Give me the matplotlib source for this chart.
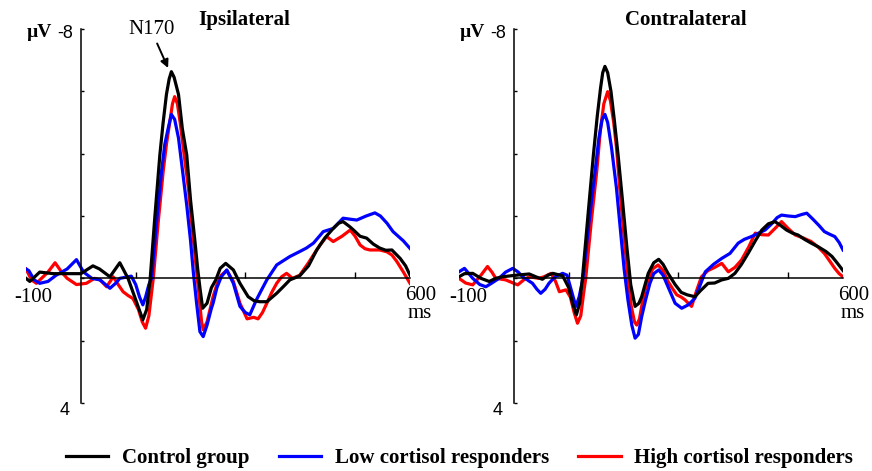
import matplotlib
matplotlib.use("Agg")
import matplotlib.pyplot as plt

SERIF = "Liberation Serif"
SANS = "Liberation Sans"

# ---- data (time in ms, amplitude in µV) ----
ipsi_ctrl_t = [-100, -93, -75, -50, -25, 0, 22, 34, 53, 71, 86, 98, 113, 120, 126, 135, 144,
               150, 156, 161, 165, 170, 178, 185, 193, 200, 208, 213, 217, 222, 230, 238,
               246, 254, 264, 278, 290, 305, 316, 326, 339, 357, 370, 381, 399, 415, 430,
               445, 460, 470, 478, 490, 497, 509, 521, 533, 545, 556, 567, 582, 592, 600]
ipsi_ctrl_v = [0.0, 0.1, -0.2, -0.15, -0.15, -0.15, -0.4, -0.3, -0.05, -0.5, 0.0, 0.59, 1.33,
               1.0, 0.1, -2.0, -3.96, -5.0, -5.9, -6.4, -6.63, -6.45, -5.9, -4.8, -3.96,
               -2.5, -1.18, -0.3, 0.3, 0.96, 0.8, 0.3, 0.05, -0.32, -0.48, -0.27, 0.16,
               0.59, 0.72, 0.75, 0.75, 0.48, 0.25, 0.05, -0.08, -0.4, -0.91, -1.3, -1.6,
               -1.77, -1.82, -1.66, -1.55, -1.35, -1.29, -1.1, -0.97, -0.9, -0.91, -0.64,
               -0.4, -0.1]

ipsi_low_t = [-100, -95, -85, -75, -60, -45, -25, -8, 5, 20, 35, 53, 64, 71, 92, 100, 107,
              113, 118, 124, 129, 138, 147, 153, 159, 165, 171, 178, 185, 193, 200, 205,
              211, 217, 223, 230, 238, 241, 248, 256, 266, 278, 290, 300, 308, 320, 330,
              339, 357, 381, 399, 411, 424, 442, 460, 478, 490, 503, 520, 536, 546, 558,
              569, 576, 588, 600]
ipsi_low_v = [-0.3, -0.25, 0.05, 0.16, 0.1, -0.1, -0.3, -0.6, -0.2, 0.0, 0.05, 0.32, 0.15,
              0.0, -0.07, 0.2, 0.6, 0.85, 0.6, 0.2, 0.0, -1.8, -3.42, -4.3, -4.8, -5.26,
              -5.1, -4.5, -3.5, -2.35, -1.2, -0.2, 0.8, 1.71, 1.87, 1.5, 0.96, 0.8, 0.3,
              -0.05, -0.27, 0.16, 0.9, 1.1, 1.17, 0.69, 0.35, 0.05, -0.43, -0.7, -0.86,
              -0.97, -1.13, -1.5, -1.6, -1.93, -1.9, -1.87, -2.0, -2.1, -2.0, -1.77, -1.5,
              -1.39, -1.2, -0.96]

ipsi_high_t = [-100, -90, -81, -60, -47, -35, -25, -8, 10, 25, 35, 47, 59, 68, 77, 86, 95,
               105, 112, 118, 124, 128, 132, 141, 150, 156, 162, 167, 171, 176, 181, 188,
               196, 202, 208, 214, 220, 223, 230, 241, 248, 256, 266, 278, 290, 303, 315,
               323, 331, 339, 348, 357, 366, 375, 386, 399, 415, 424, 436, 448, 460, 476,
               491, 500, 509, 518, 527, 545, 558, 567, 576, 588, 600]
ipsi_high_v = [-0.3, 0.05, 0.16, -0.2, -0.5, -0.2, 0.0, 0.2, 0.16, 0.0, 0.05, 0.27, -0.05,
               0.2, 0.43, 0.55, 0.65, 1.0, 1.4, 1.6, 1.2, 0.6, 0.0, -1.8, -3.42, -4.3,
               -5.0, -5.6, -5.83, -5.6, -5.0, -4.0, -2.9, -1.8, -0.75, 0.3, 1.39, 1.65,
               1.4, 0.59, 0.2, -0.1, -0.25, 0.1, 0.8, 1.3, 1.25, 1.3, 1.1, 0.8, 0.45, 0.16,
               -0.05, -0.16, 0.0, -0.1, -0.5, -0.75, -1.07, -1.34, -1.18, -1.35, -1.55,
               -1.35, -1.07, -0.95, -0.91, -0.91, -0.85, -0.75, -0.54, -0.2, 0.16]

contra_ctrl_t = [-100, -90, -75, -60, -45, -33, -21, 4, 28, 40, 52, 62, 71, 89, 100, 107,
                 114, 120, 125, 135, 145, 152, 158, 162, 166, 171, 177, 183, 190, 198, 206,
                 213, 221, 228, 233, 240, 245, 255, 264, 272, 281, 294, 305, 316, 330, 340,
                 354, 366, 379, 391, 403, 415, 427, 440, 452, 464, 476, 486, 497, 508, 518,
                 530, 542, 556, 569, 580, 590, 600]
contra_ctrl_v = [-0.05, -0.15, -0.16, 0.0, 0.1, 0.0, -0.05, -0.1, -0.14, -0.05, 0.03, -0.1,
                 -0.16, -0.08, 0.3, 0.8, 1.17, 0.8, 0.0, -2.0, -3.96, -5.2, -6.1, -6.6, -6.8,
                 -6.6, -6.0, -5.1, -3.96, -2.5, -1.0, 0.2, 0.9, 0.8, 0.59, 0.15, -0.16, -0.5,
                 -0.61, -0.45, -0.16, 0.2, 0.45, 0.53, 0.59, 0.4, 0.16, 0.15, 0.05, 0.0,
                 -0.16, -0.45, -0.8, -1.2, -1.55, -1.75, -1.82, -1.7, -1.55, -1.45, -1.39,
                 -1.25, -1.13, -1.0, -0.86, -0.7, -0.48, -0.25]

contra_low_t = [-100, -90, -82, -75, -62, -51, -40, -27, -15, -2, 8, 16, 34, 42, 49, 57, 64,
                75, 89, 97, 105, 113, 119, 126, 137, 148, 155, 161, 166, 171, 178, 187, 194,
                201, 208, 215, 221, 227, 233, 240, 248, 255, 264, 272, 281, 294, 306, 318,
                330, 340, 349, 364, 379, 394, 409, 420, 433, 446, 458, 470, 480, 488, 500,
                513, 525, 534, 545, 556, 566, 575, 585, 593, 600]
contra_low_v = [-0.21, -0.32, -0.15, 0.0, 0.2, 0.27, 0.15, 0.0, -0.2, -0.32, -0.2, -0.05,
                0.16, 0.35, 0.48, 0.35, 0.16, -0.05, -0.16, -0.1, 0.4, 0.9, 0.6, 0.0, -1.8,
                -3.42, -4.5, -5.1, -5.26, -5.0, -4.2, -2.9, -1.6, -0.3, 0.7, 1.5, 1.92, 1.8,
                1.23, 0.7, 0.16, -0.15, -0.27, -0.1, 0.27, 0.8, 0.96, 0.85, 0.64, 0.2,
                -0.21, -0.45, -0.64, -0.8, -1.13, -1.25, -1.34, -1.45, -1.55, -1.75, -1.95,
                -2.03, -2.0, -1.98, -2.05, -2.09, -1.9, -1.7, -1.5, -1.42, -1.34, -1.15,
                -0.91]

contra_high_t = [-100, -88, -75, -60, -48, -40, -33, -15, 7, 18, 28, 45, 55, 68, 76, 83, 95,
                 103, 110, 116, 122, 127, 131, 141, 151, 158, 164, 171, 176, 182, 187, 193,
                 200, 207, 214, 220, 224, 229, 233, 239, 245, 253, 263, 272, 281, 290, 297,
                 305, 312, 318, 324, 333, 342, 354, 366, 379, 391, 403, 415, 428, 440, 452,
                 464, 476, 488, 500, 513, 527, 542, 555, 566, 576, 585, 593, 600]
contra_high_v = [0.0, 0.15, 0.21, -0.1, -0.38, -0.2, 0.0, 0.05, 0.21, 0.05, -0.05, 0.0,
                 -0.05, -0.16, 0.1, 0.43, 0.37, 0.6, 1.1, 1.44, 1.2, 0.5, 0.0, -1.8, -3.42,
                 -4.8, -5.6, -5.99, -5.7, -5.0, -4.2, -2.9, -1.5, -0.2, 0.9, 1.4, 1.5, 1.3,
                 0.9, 0.4, 0.05, -0.3, -0.43, -0.25, 0.1, 0.35, 0.53, 0.6, 0.69, 0.8, 0.9,
                 0.4, -0.05, -0.25, -0.35, -0.48, -0.21, -0.35, -0.59, -1.0, -1.45, -1.4,
                 -1.39, -1.6, -1.82, -1.6, -1.39, -1.3, -1.18, -1.0, -0.8, -0.55, -0.32,
                 -0.15, -0.05]

group_labels = ["Control group", "Low cortisol responders", "High cortisol responders"]
group_colors = ["#000000", "#0000ff", "#ff0000"]
panel_titles = ["Ipsilateral", "Contralateral"]
x_ticks = [100, 300, 500]
y_ticks = [-8, -6, -4, -2, 0, 2, 4]

panels = [
    (ipsi_ctrl_t, ipsi_ctrl_v, ipsi_low_t, ipsi_low_v, ipsi_high_t, ipsi_high_v),
    (contra_ctrl_t, contra_ctrl_v, contra_low_t, contra_low_v, contra_high_t, contra_high_v),
]

W, H = 872, 471
fig = plt.figure(figsize=(W / 100, H / 100), dpi=100)

# axes boxes in pixels: x from -100 ms to 600 ms, y from -8 to 4 µV
boxes = [(26, 29, 384, 374), (459, 29, 384, 374)]

handles = []
for i, (box, data) in enumerate(zip(boxes, panels)):
    x0, y0, w, h = box
    ax = fig.add_axes([x0 / W, 1 - (y0 + h) / H, w / W, h / H])
    ct, cv, lt, lv, ht, hv = data
    lh = ax.plot(ht, hv, color=group_colors[2], lw=2.3, solid_joinstyle="round")[0]
    ll = ax.plot(lt, lv, color=group_colors[1], lw=2.3, solid_joinstyle="round")[0]
    lc = ax.plot(ct, cv, color=group_colors[0], lw=2.3, solid_joinstyle="round")[0]
    if i == 0:
        handles = [lc, ll, lh]

    ax.set_xlim(-100, 600)
    ax.set_ylim(4, -8)
    ax.patch.set_visible(False)
    for s in ["top", "right"]:
        ax.spines[s].set_visible(False)
    ax.spines["left"].set_position(("data", 0))
    ax.spines["bottom"].set_position(("data", 0))
    ax.spines["left"].set_bounds(-8, 4)
    ax.spines["bottom"].set_bounds(0, 600)
    ax.spines["left"].set_linewidth(1.1)
    ax.spines["bottom"].set_linewidth(1.1)
    ax.set_xticks(x_ticks)
    ax.set_yticks(y_ticks)
    ax.set_xticklabels([])
    ax.set_yticklabels([])
    ax.tick_params(axis="x", direction="in", length=4.5, width=1.0)
    ax.tick_params(axis="y", direction="in", length=2.2, width=1.0)

    ax.text(-87 if i == 0 else -84, 0.6, "-100", family=SERIF, fontsize=15,
            ha="center", va="center")
    ax.text(620, 0.55, "600", family=SERIF, fontsize=15, ha="center", va="center")
    ax.text(618, 1.12, "ms", family=SERIF, fontsize=15, ha="center", va="center")
    ax.text(-29, -7.85, "-8", family=SANS, fontsize=13, ha="center", va="center")
    ax.text(-29, 4.25, "4", family=SANS, fontsize=13, ha="center", va="center")
    ax.text(-75, -7.9, "µV", family=SERIF, fontsize=14, fontweight="bold",
            ha="center", va="center")
    ax.text(297 if i == 0 else 314, -8.3, panel_titles[i], family=SERIF, fontsize=15,
            fontweight="bold", ha="center", va="center")

    if i == 0:
        ax.annotate("N170", xy=(159, -6.75), xytext=(128, -7.97),
                    family=SERIF, fontsize=15, ha="center", va="center",
                    arrowprops=dict(arrowstyle="-|>", color="black", lw=1.4,
                                    shrinkA=1, shrinkB=0, mutation_scale=12))

fig.legend(handles, group_labels, loc="center", bbox_to_anchor=(459.5 / W, 1 - 458 / H),
           ncol=3, frameon=False, handlelength=2.05, handletextpad=0.65,
           columnspacing=1.4, prop={"family": SERIF, "size": 15, "weight": "bold"})

fig.savefig("out.png", dpi=100)
